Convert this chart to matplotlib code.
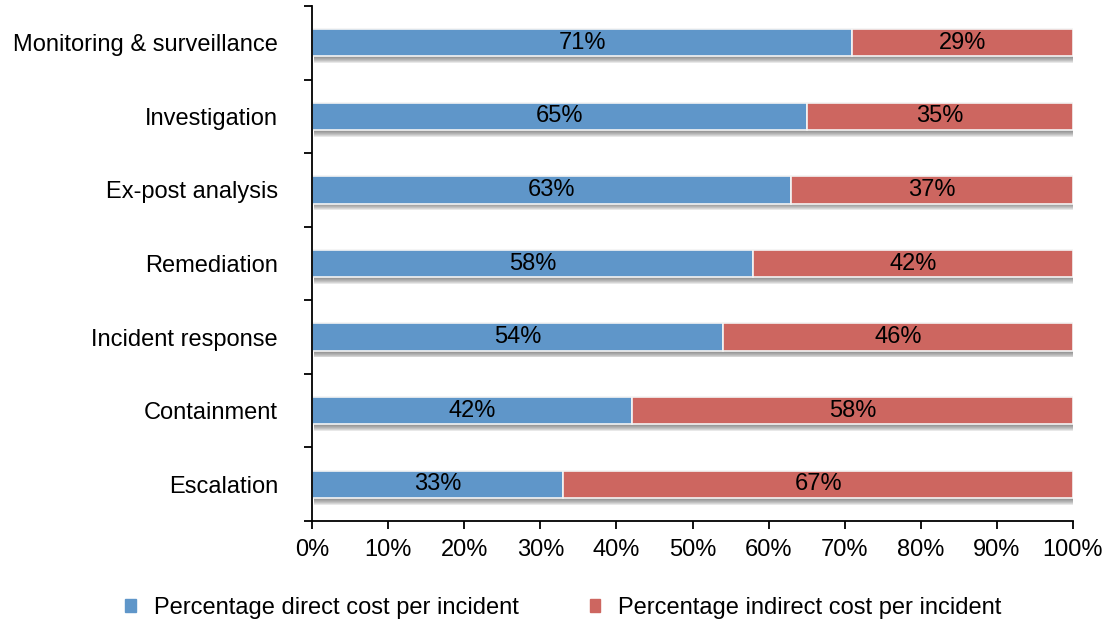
import matplotlib.pyplot as plt
import matplotlib.patheffects as pe
from matplotlib.patches import Patch
import numpy as np

plt.rcParams['font.family'] = ['Liberation Sans', 'DejaVu Sans']

categories = ["Monitoring & surveillance", "Investigation", "Ex-post analysis",
              "Remediation", "Incident response", "Containment", "Escalation"]
direct = [71, 65, 63, 58, 54, 42, 33]
indirect = [29, 35, 37, 42, 46, 58, 67]
xticks = [0, 10, 20, 30, 40, 50, 60, 70, 80, 90, 100]

blue = "#5F96C9"
red = "#CD6660"
fs = 17

fig = plt.figure(figsize=(11.09, 6.26), dpi=100)
ax = fig.add_axes([312 / 1109, 1 - 521 / 626, (1073 - 312) / 1109, (521 - 6) / 626])

y = np.arange(len(categories))[::-1]

# soft drop shadow: stacked offset copies fade out downward
shadow = [pe.SimplePatchShadow(offset=(1.2, -0.7 * k), shadow_rgbFace="#505050", alpha=0.13)
          for k in range(1, 8)] + [pe.Normal()]

ax.barh(y, direct, height=0.37, color=blue, edgecolor="#f4f4f4", linewidth=1.2,
        path_effects=shadow)
ax.barh(y, indirect, left=direct, height=0.37, color=red, edgecolor="#f4f4f4",
        linewidth=1.2, path_effects=shadow)

for yi, d, ind in zip(y, direct, indirect):
    ax.text(d / 2, yi, f"{d}%", ha="center", va="center", fontsize=fs)
    ax.text(d + ind / 2, yi, f"{ind}%", ha="center", va="center", fontsize=fs)

ax.set_xlim(0, 100)
ax.set_ylim(-0.5, len(categories) - 0.5)
ax.set_xticks(xticks)
ax.set_xticklabels([f"{t}%" for t in xticks], fontsize=fs)

# category names centred on bars, tick marks between bands
ax.set_yticks(np.arange(-0.5, len(categories), 1.0))
ax.set_yticklabels([])
ax.set_yticks(y, minor=True)
ax.set_yticklabels(categories, minor=True, fontsize=fs)
ax.tick_params(axis="y", which="minor", length=0, pad=24.5)
ax.tick_params(axis="y", which="major", length=6, width=1.3)
ax.tick_params(axis="x", length=6, width=1.3, pad=7)

for side in ["top", "right"]:
    ax.spines[side].set_visible(False)
for side in ["left", "bottom"]:
    ax.spines[side].set_linewidth(1.3)

handles = [Patch(color=blue, label="Percentage direct cost per incident"),
           Patch(color=red, label="Percentage indirect cost per incident")]
fig.legend(handles=handles, loc="center", bbox_to_anchor=(0.508, 1 - 608 / 626),
           ncol=2, frameon=False, fontsize=fs, handlelength=0.45, handleheight=0.45,
           handletextpad=0.75, columnspacing=3.0)

fig.savefig("out.png", dpi=100)
